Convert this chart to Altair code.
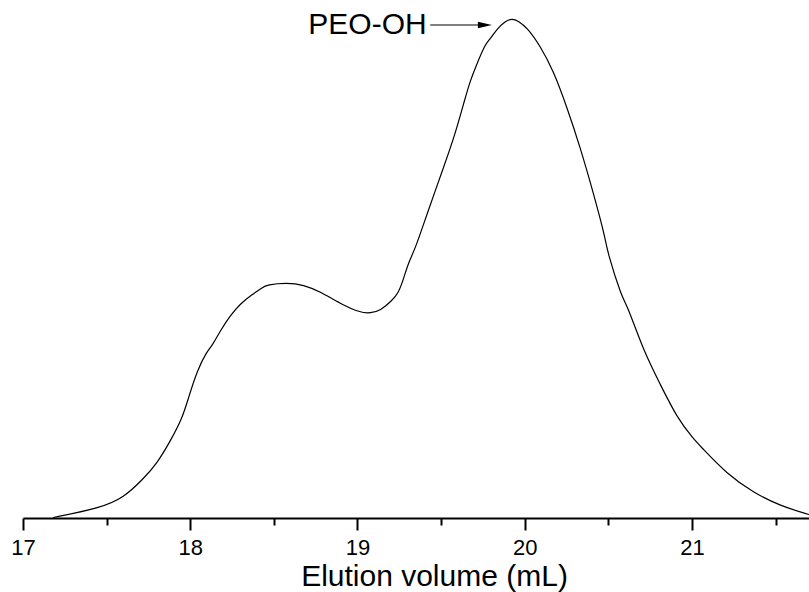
import altair as alt
import pandas as pd

# Elution volume (mL) and normalised detector response
volume_ml = [17.181, 17.462, 17.600, 17.719, 17.803, 17.881, 17.953, 17.990, 18.040, 18.100,
             18.130, 18.180, 18.239, 18.299, 18.369, 18.429, 18.459, 18.578, 18.678, 18.778,
             18.897, 19.017, 19.077, 19.137, 19.206, 19.246, 19.276, 19.304, 19.348, 19.416,
             19.515, 19.585, 19.645, 19.674, 19.714, 19.764, 19.794, 19.834, 19.884, 19.924,
             19.963, 20.013, 20.093, 20.172, 20.253, 20.332, 20.412, 20.482, 20.492, 20.581,
             20.611, 20.711, 20.810, 20.910, 21.010, 21.050, 21.209, 21.368, 21.528, 21.700]
intensity = [0.001, 0.020, 0.040, 0.078, 0.110, 0.154, 0.200, 0.241, 0.294, 0.334,
             0.344, 0.375, 0.405, 0.429, 0.447, 0.461, 0.467, 0.471, 0.467, 0.453,
             0.429, 0.411, 0.410, 0.415, 0.435, 0.451, 0.479, 0.511, 0.541, 0.609,
             0.702, 0.769, 0.842, 0.875, 0.909, 0.949, 0.959, 0.979, 0.995, 1.000,
             0.995, 0.982, 0.945, 0.895, 0.822, 0.742, 0.649, 0.561, 0.535, 0.441,
             0.428, 0.334, 0.268, 0.201, 0.158, 0.144, 0.088, 0.051, 0.024, 0.007]

tick_values = [17, 17.5, 18, 18.5, 19, 19.5, 20, 20.5, 21, 21.5]
x_title = "Elution volume (mL)"

annotation_text = ["PEO-OH"]
annotation_x = [18.706]
annotation_y = [0.969]
arrow_x_start = [19.435]
arrow_x_end = [19.762]
arrow_y = [0.987]

FONT = "Liberation Sans"

curve_df = pd.DataFrame({"volume": volume_ml, "intensity": intensity})
label_df = pd.DataFrame({"lx": annotation_x, "ly": annotation_y, "text": annotation_text})
arrow_df = pd.DataFrame({"ax": arrow_x_start, "ax2": arrow_x_end, "ay": arrow_y})

xscale = alt.Scale(domain=[17, 21.7], nice=False, zero=False)
yscale = alt.Scale(domain=[0, 1.037], nice=False, zero=False)

xaxis = alt.Axis(
    values=tick_values,
    labelExpr="datum.value % 1 === 0 ? format(datum.value, 'd') : ''",
    grid=False,
    domainColor="black",
    domainWidth=2,
    tickColor="black",
    tickWidth=2,
    tickSize={"condition": {"test": "datum.value % 1 === 0", "value": 12}, "value": 7},
    labelFont=FONT,
    labelFontSize=22,
    labelColor="black",
    labelPadding=7,
    labelFlush=False,
    labelOverlap=False,
    title=x_title,
    titleFont=FONT,
    titleFontSize=30,
    titleFontWeight="normal",
    titleColor="black",
    titleX=411,
    titleY=67,
    titleAlign="center",
    titleBaseline="alphabetic",
)

curve = alt.Chart(curve_df).mark_line(color="black", strokeWidth=1.2, interpolate="basis", clip=True).encode(
    x=alt.X("volume:Q", scale=xscale, axis=xaxis),
    y=alt.Y("intensity:Q", scale=yscale, axis=None),
)

label = alt.Chart(label_df).mark_text(
    align="left", baseline="alphabetic", font=FONT, fontSize=30, color="black"
).encode(
    x=alt.X("lx:Q", scale=xscale, axis=xaxis),
    y=alt.Y("ly:Q", scale=yscale, axis=None),
    text="text:N",
)

arrow_line = alt.Chart(arrow_df).mark_rule(color="black", strokeWidth=1.2).encode(
    x=alt.X("ax:Q", scale=xscale, axis=xaxis),
    x2="ax2:Q",
    y=alt.Y("ay:Q", scale=yscale, axis=None),
)

arrow_head = alt.Chart(arrow_df).mark_point(
    shape="M-1,-0.45L1,0L-1,0.45Z", filled=True, size=196, color="black", opacity=1
).encode(
    x=alt.X("ax2:Q", scale=xscale, axis=xaxis),
    y=alt.Y("ay:Q", scale=yscale, axis=None),
)

chart = alt.layer(curve, label, arrow_line, arrow_head).properties(
    width=786,
    height=518,
    padding={"left": 23, "top": 0, "right": 0, "bottom": 74},
    autosize=alt.AutoSizeParams(type="none"),
    background="white",
).configure_view(stroke=None)

chart.save("out.html", embed_options={"renderer": "svg", "actions": False})
